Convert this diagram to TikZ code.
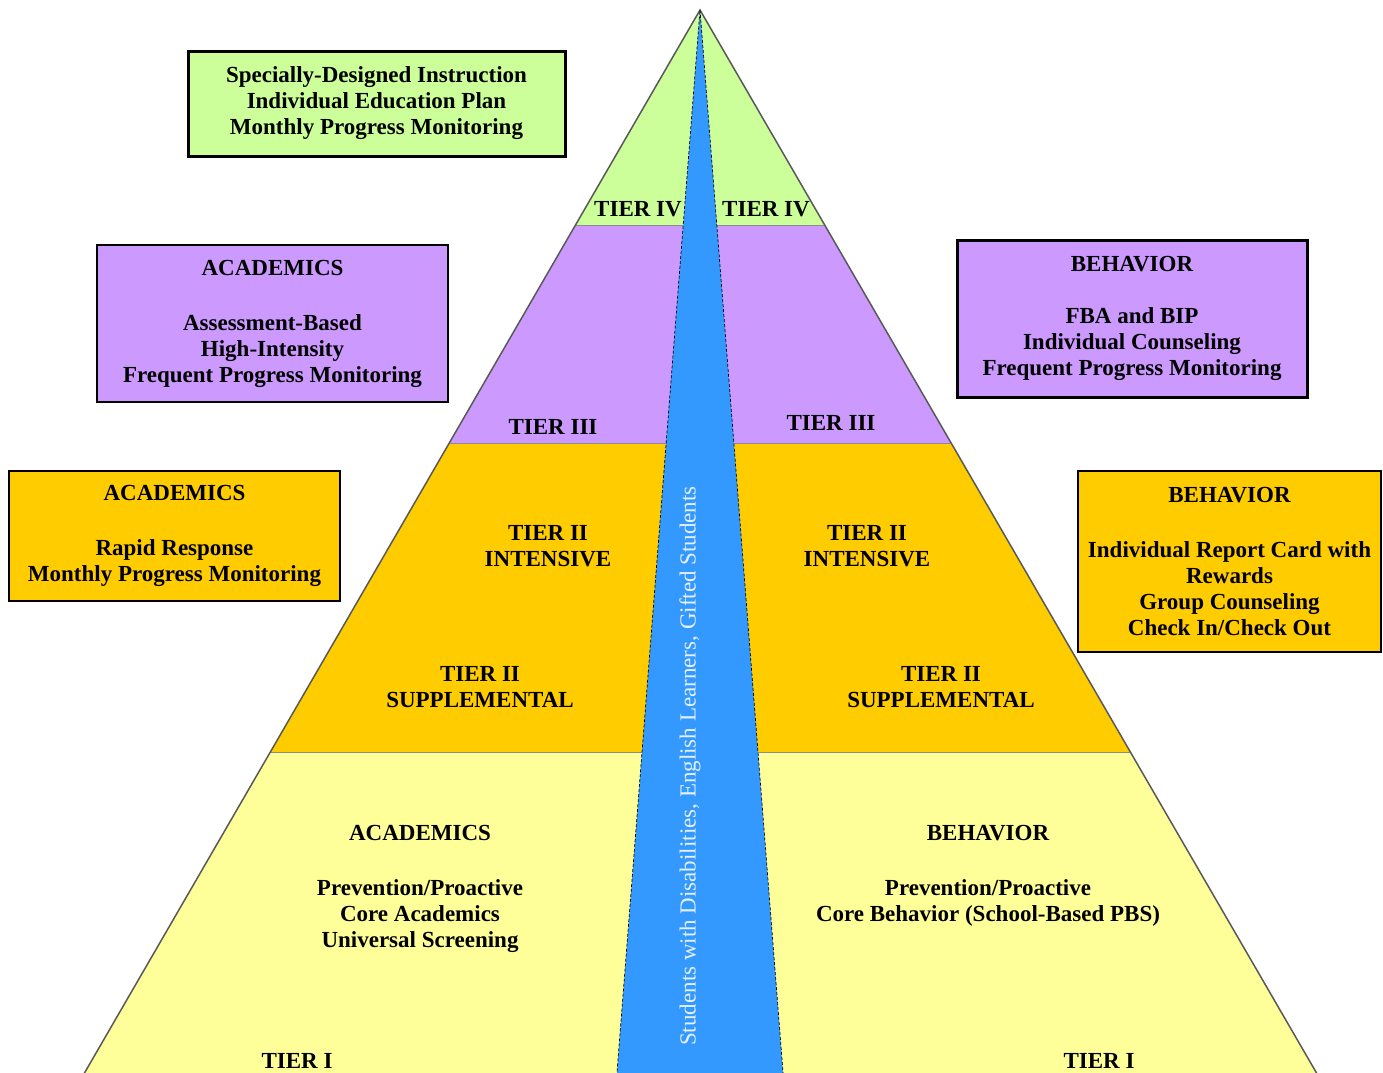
\documentclass[tikz,border=0pt]{standalone}
\usepackage{fontspec}
\setmainfont{Liberation Serif}
\definecolor{tgreen}{HTML}{CCFF99}
\definecolor{tpurple}{HTML}{CC99FF}
\definecolor{torange}{HTML}{FFCC00}
\definecolor{tyellow}{HTML}{FFFF99}
\definecolor{tblue}{HTML}{3399FF}
\definecolor{sidetext}{HTML}{E8F0FF}
\tikzset{
  lbl/.style={font=\bfseries\fontsize{23}{26}\selectfont, align=center, inner sep=0pt},
  infobox/.style={draw=black, align=center, inner sep=0pt, font=\bfseries\fontsize{23}{26}\selectfont},
  pyredge/.style={draw=black!65, line width=1.5pt},
  tierline/.style={draw=black!45, line width=1pt},
}
\begin{document}
\begin{tikzpicture}[x=1pt,y=-1pt]
\useasboundingbox (0,0) rectangle (1383,1072);
\clip (0,0) rectangle (1383,1072);
% pyramid geometry
\coordinate (apex) at (700,10);
\coordinate (L1) at (575.5,225);  \coordinate (R1) at (824.7,225);
\coordinate (L2) at (449.3,443);  \coordinate (R2) at (951.1,443);
\coordinate (L3) at (270.3,752);  \coordinate (R3) at (1130.4,752);
\coordinate (L4) at (77.5,1085);  \coordinate (R4) at (1323.5,1085);
\coordinate (B4l) at (616,1085);  \coordinate (B4r) at (784,1085);
% tiers
\fill[tyellow] (L3) -- (R3) -- (R4) -- (L4) -- cycle;
\fill[torange] (L2) -- (R2) -- (R3) -- (L3) -- cycle;
\fill[tpurple] (L1) -- (R1) -- (R2) -- (L2) -- cycle;
\fill[tgreen] (apex) -- (R1) -- (L1) -- cycle;
\draw[tierline] (L1) -- (R1);
\draw[tierline] (L2) -- (R2);
\draw[tierline] (L3) -- (R3);
\draw[pyredge] (L4) -- (apex) -- (R4);
% blue wedge
\filldraw[fill=tblue, draw=black, line width=0.7pt, densely dashed] (apex) -- (B4r) -- (B4l) -- cycle;
\node[rotate=90, font=\fontsize{23}{26}\selectfont, text=sidetext, inner sep=0pt] (side) at (690,766) {Students with Disabilities, English Learners, Gifted Students};
% tier labels
\node[lbl] (t4l) at (638,209) {TIER IV};
\node[lbl] (t4r) at (766,209) {TIER IV};
\node[lbl] (t3l) at (553,427) {TIER III};
\node[lbl] (t3r) at (831,423) {TIER III};
\node[lbl] (t2il) at (548,546) {TIER II\\INTENSIVE};
\node[lbl] (t2ir) at (867,546) {TIER II\\INTENSIVE};
\node[lbl] (t2sl) at (480,687) {TIER II\\SUPPLEMENTAL};
\node[lbl] (t2sr) at (941,687) {TIER II\\SUPPLEMENTAL};
\node[lbl] (acad1) at (420,889) {ACADEMICS\\[29pt]Prevention/Proactive\\Core Academics\\Universal Screening};
\node[lbl] (beh1) at (988,876) {BEHAVIOR\\[29pt]Prevention/Proactive\\Core Behavior (School-Based PBS)};
\node[lbl] (t1l) at (297,1061) {TIER I};
\node[lbl] (t1r) at (1099,1061) {TIER I};
% side boxes
\node[infobox, fill=tgreen, line width=3pt, minimum width=377pt, minimum height=105pt] (sdi) at (376.5,103.5)
  {Specially-Designed Instruction\\Individual Education Plan\\Monthly Progress Monitoring};
\node[infobox, fill=tpurple, line width=2.5pt, minimum width=351pt, minimum height=157pt] (acad3) at (272.5,323.5)
  {ACADEMICS\\[29pt]Assessment-Based\\High-Intensity\\Frequent Progress Monitoring};
\node[infobox, fill=tpurple, line width=3pt, minimum width=350pt, minimum height=157pt] (beh3) at (1132,318.5)
  {BEHAVIOR\\[26pt]FBA and BIP\\Individual Counseling\\Frequent Progress Monitoring};
\node[infobox, fill=torange, line width=2.5pt, minimum width=331pt, minimum height=130pt] (acad2) at (174.5,536)
  {ACADEMICS\\[29pt]Rapid Response\\Monthly Progress Monitoring};
\node[infobox, fill=torange, line width=2.5pt, minimum width=303pt, minimum height=181pt] (beh2) at (1229.5,561.5)
  {BEHAVIOR\\[29pt]Individual Report Card with\\Rewards\\Group Counseling\\Check In/Check Out};
\end{tikzpicture}
\end{document}
